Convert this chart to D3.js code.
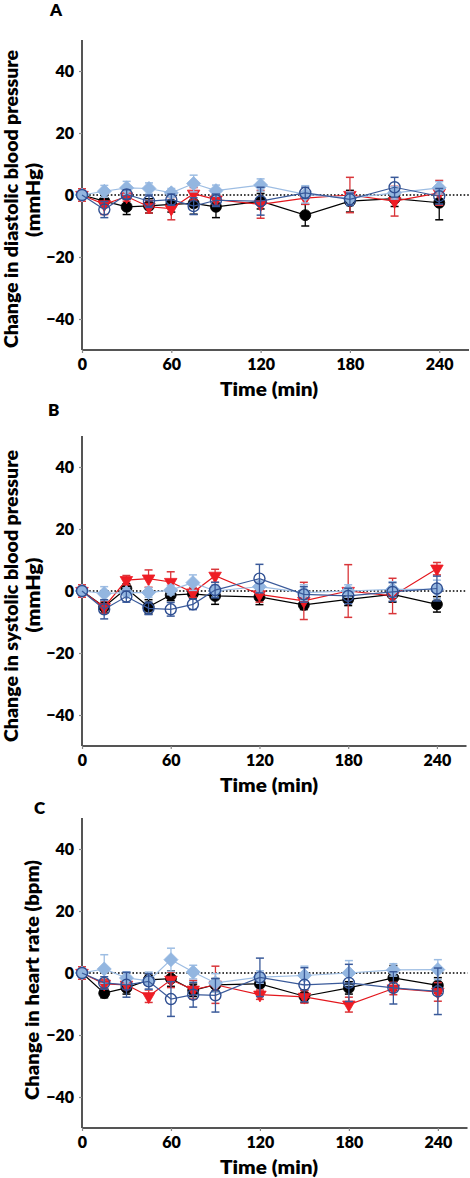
<!DOCTYPE html>
<html><head><meta charset="utf-8">
<script src="https://cdn.jsdelivr.net/npm/d3@7"></script>
<style>
html,body{margin:0;padding:0;background:#fff;}
svg text{font-family:Lato,"Open Sans",sans-serif;font-weight:700;fill:#000;}
</style></head>
<body>
<svg id="chart" width="470" height="1178"></svg>
<script>
const times = [0,15,30,45,60,75,90,120,150,180,210,240];
const xTicks = [0,60,120,180,240];
const yTicks = [-40,-20,0,20,40];

// Panel A: diastolic BP
const dbpBlack    = [0,-2,-3.8,-3.5,-3,-2.7,-3.8,-2,-6.5,-2,-1.2,-2.5];
const dbpBlackErr = [0,2,2.5,2.3,2.5,3.5,3.5,2.5,3.5,3.5,2.5,5.5];
const dbpOpen     = [0,-4.7,0.2,-2,-1.5,-3.6,-1.7,-2,0.7,-1.4,2.5,-0.4];
const dbpOpenErr  = [0,2.6,1.5,2,1.8,2.7,2,4.5,1.8,2,3.2,2.5];
const dbpRed      = [0,-3,-0.5,-3.8,-4.4,0.4,-1.5,-3,-1,0,-2,0.7];
const dbpRedErr   = [2,3.3,1.5,2,3.6,2,2,4.5,2,5.7,4.8,4];
const dbpDiam     = [0,1.2,2.3,2.1,0.7,3.7,1.4,3.2,0.2,-1,0.7,2.3];
const dbpDiamErr  = [0,1.9,2.1,1.8,1.4,2.7,1.8,2,2.8,2,2,2];

// Panel B: systolic BP
const sbpBlack    = [0,-5.1,0.8,-5.1,-1.3,-0.9,-1.6,-1.9,-4.5,-2.7,-1.1,-4.3];
const sbpBlackErr = [0,2,1.5,2.3,1.8,1.5,2.7,2.5,1.5,2,2.5,2.5];
const sbpOpen     = [0,-5.9,-1.8,-5.6,-5.9,-4.3,0.3,4,-1.1,-1.6,-0.3,0.8];
const sbpOpenErr  = [0,3.1,1.8,2,2.2,1.7,2.5,4.6,2.5,2.5,3,4];
const sbpRed      = [0,-5.2,3.5,4,2.9,-0.5,4.9,-1.1,-3.2,0,-1.6,7.2];
const sbpRedErr   = [2,2,1.5,2.8,3.3,1.5,2.1,2.5,6,8.5,5.7,2];
const sbpDiam     = [0,-0.8,-0.5,-0.5,0.3,2.7,0,1.4,-0.5,0,0.5,0.5];
const sbpDiamErr  = [0,2.2,1.5,1.5,1.5,2.5,2,1.8,2.5,2,2.5,3];

// Panel C: heart rate
const hrBlack    = [0,-6.5,-4.8,-2.2,-1.8,-5.6,-3.8,-3.5,-7.5,-4.8,-1.6,-4];
const hrBlackErr = [0,1.5,2,1.5,2.5,2,2,2.5,2,2,4,2.5];
const hrOpen     = [0,-3.2,-3.8,-2.7,-8.4,-7,-7.2,-1.4,-3.8,-3.2,-4.8,-5.9];
const hrOpenErr  = [0,2,4,2.5,5.6,4,5.4,6.2,5.5,6,5.2,7.5];
const hrRed      = [0,-3.5,-3.8,-7.5,-2.2,-5.4,-3.8,-7,-7.7,-10.2,-5,-6.1];
const hrRedErr   = [2,1.5,1.5,2,2.5,3,6,1.5,2,2.4,2,3];
const hrDiam     = [0,1.3,-1.6,-2.5,4.3,0.3,-3.2,-1.3,-0.8,0,1,1.1];
const hrDiamErr  = [0,4.6,2,2.8,3.7,2.2,3,2,3,4,2,3.2];

const panels = [
  {letter:"A", labels:["Change in diastolic blood pressure","(mmHg)"], top:40, right:469,
   letterX:50, letterY:16, lab1:{x:18, c:199, len:298}, lab2:{x:40, c:200, len:74},
   series:[[dbpBlack,dbpBlackErr],[dbpRed,dbpRedErr],[dbpDiam,dbpDiamErr],[dbpOpen,dbpOpenErr]]},
  {letter:"B", labels:["Change in systolic blood pressure","(mmHg)"], top:436, right:466.5,
   letterX:48, letterY:416, lab1:{x:18, c:596, len:292}, lab2:{x:40, c:595, len:75},
   series:[[sbpBlack,sbpBlackErr],[sbpRed,sbpRedErr],[sbpDiam,sbpDiamErr],[sbpOpen,sbpOpenErr]]},
  {letter:"C", labels:["Change in heart rate (bpm)"], top:818, right:467.5,
   letterX:34, letterY:814, lab1:{x:39, c:980, len:240},
   series:[[hrBlack,hrBlackErr],[hrRed,hrRedErr],[hrDiam,hrDiamErr],[hrOpen,hrOpenErr]]}
];

// style per series: black, red, diamond, open circle
const styles = [
  {line:"#000000", err:"#000000", fill:"#000000", stroke:"#000000", sym:d3.symbolCircle, size:95, rot:0},
  {line:"#e3161c", err:"#d9363a", fill:"#ee1c24", stroke:"#ee1c24", sym:d3.symbolTriangle, size:68, rot:180},
  {line:"#9dbde3", err:"#9dbde3", fill:"#93b6e0", stroke:"#93b6e0", sym:d3.symbolSquare, size:98, rot:45},
  {line:"#3a5a9a", err:"#3a5a9a", fill:"none", stroke:"#2f4f92", sym:d3.symbolCircle, size:95, rot:0}
];

const svg = d3.select("#chart");
const left = 82, plotH = 310;

panels.forEach(p => {
  const x = d3.scaleLinear().domain([0,260]).range([left, p.right]);
  const y = d3.scaleLinear().domain([-50,50]).range([p.top + plotH, p.top]);
  const g = svg.append("g");

  // zero line
  g.append("line").attr("x1", x(0)).attr("x2", x(260)).attr("y1", y(0)).attr("y2", y(0))
    .attr("stroke","#000").attr("stroke-width",1.4).attr("stroke-dasharray","1.6,2");

  // axes
  const yAxis = g.append("g").attr("transform",`translate(${left},0)`)
    .call(d3.axisLeft(y).tickValues(yTicks).tickSize(3).tickPadding(5));
  const xAxis = g.append("g").attr("transform",`translate(0,${p.top+plotH})`)
    .call(d3.axisBottom(x).tickValues(xTicks).tickSize(3).tickPadding(6));
  [yAxis,xAxis].forEach(a => {
    a.select(".domain").attr("stroke","#555").attr("stroke-width",2);
    a.selectAll(".tick line").attr("stroke","#888").attr("stroke-width",1.2);
    a.selectAll("text").style("font-size","16px").style("font-family","Lato, sans-serif").style("font-weight","800").attr("fill","#000");
  });
  yAxis.select(".domain").attr("d",`M0,${p.top}V${p.top+plotH}`);
  xAxis.select(".domain").attr("d",`M${left},0H${p.right}`);

  // series
  p.series.forEach((s, si) => {
    const st = styles[si];
    const vals = s[0], errs = s[1];
    const pts = times.map((t,i) => ({t, v:vals[i], e:errs[i]}));
    g.append("path").datum(pts)
      .attr("d", d3.line().x(d=>x(d.t)).y(d=>y(d.v)))
      .attr("fill","none").attr("stroke",st.line).attr("stroke-width",1.2);
    const eb = g.append("g");
    pts.filter(d=>d.e>0).forEach(d => {
      const cx = x(d.t), y1 = y(d.v + d.e), y2 = y(d.v - d.e);
      eb.append("line").attr("x1",cx).attr("x2",cx).attr("y1",y1).attr("y2",y2)
        .attr("stroke",st.err).attr("stroke-width",1.3);
      [y1,y2].forEach(yy => eb.append("line").attr("x1",cx-4).attr("x2",cx+4)
        .attr("y1",yy).attr("y2",yy).attr("stroke",st.err).attr("stroke-width",1.5));
    });
    g.append("g").selectAll("path").data(pts).join("path")
      .attr("d", d3.symbol().type(st.sym).size(st.size))
      .attr("transform", d => `translate(${x(d.t)},${y(d.v)}) rotate(${st.rot})`)
      .attr("fill", st.fill).attr("stroke", st.stroke).attr("stroke-width", si===3?1.4:0.8);
  });

  // x title
  g.append("text").attr("x", 269).attr("y", p.top+plotH+46).attr("text-anchor","middle")
    .attr("textLength", 98).attr("lengthAdjust","spacingAndGlyphs")
    .style("font-size","19px").style("font-weight","800").text("Time (min)");

  // y titles
  const labs = [p.lab1, p.lab2];
  p.labels.forEach((txt, i) => {
    const L = labs[i];
    g.append("text").attr("transform",`translate(${L.x},${L.c}) rotate(-90)`)
      .attr("x", -L.len/2).attr("y", 0)
      .attr("textLength", L.len).attr("lengthAdjust","spacingAndGlyphs")
      .style("font-size","18px").style("font-weight","800").text(txt);
  });

  // panel letter
  g.append("text").attr("x", p.letterX).attr("y", p.letterY).style("font-size","17px").style("font-weight","800").text(p.letter);
});
</script>
</body></html>
